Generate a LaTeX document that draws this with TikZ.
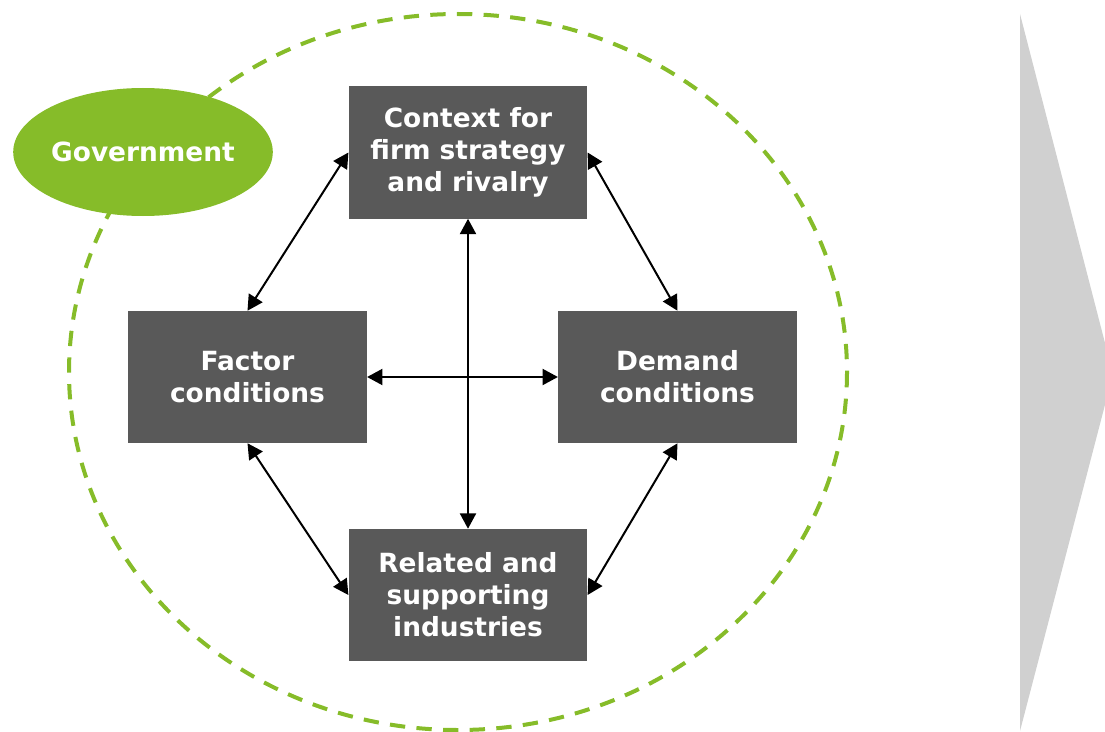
\documentclass[tikz,border=0pt]{standalone}
\usepackage{fontspec}
\setmainfont{DejaVu Sans}
\usetikzlibrary{arrows.meta, shapes.geometric}

\definecolor{boxgray}{HTML}{595959}
\definecolor{govgreen}{HTML}{86BC29}
\definecolor{chevgray}{HTML}{D0D0D0}

\begin{document}
\begin{tikzpicture}[
      x=0.75pt, y=-0.75pt,
      force/.style={fill=boxgray, text=white, align=center, minimum width=179pt, minimum height=99pt, inner sep=0pt, font=\fontsize{19.8}{24}\selectfont\bfseries},
      gov/.style={ellipse, fill=govgreen, text=white, minimum width=193.5pt, minimum height=96pt, inner sep=0pt, font=\fontsize{19.8}{24}\selectfont\bfseries},
      link/.style={{Triangle[length=11.5pt, width=12pt]}-{Triangle[length=11.5pt, width=12pt]}, line width=1.5pt},
      ring/.style={draw=govgreen, line width=3pt, dash pattern=on 11.5pt off 8.5pt}
    ]
    \useasboundingbox (0,0) rectangle (1105,731);
    \clip (0,0) rectangle (1105,731);

    % chevron on the right
    \fill[chevgray] (1020,14) -- (1113,374) -- (1020,731) -- cycle;

    % dashed ring round the diamond
    \draw[ring] (458,372) ellipse [x radius=389, y radius=358];

    \node[gov] (gov) at (143,152) {Government};

    \node[force] (ctx)    at (468,152.5) {Context for\\firm strategy\\and rivalry};
    \node[force] (factor) at (247.5,377) {Factor\\conditions};
    \node[force] (demand) at (677.5,377) {Demand\\conditions};
    \node[force] (rel)    at (468,595)   {Related and\\supporting\\industries};

    \draw[link] (ctx.west)    -- (factor.north);
    \draw[link] (ctx.east)    -- (demand.north);
    \draw[link] (factor.east) -- (demand.west);
    \draw[link] (ctx.south)   -- (rel.north);
    \draw[link] (factor.south) -- (rel.west);
    \draw[link] (demand.south) -- (rel.east);
  \end{tikzpicture}
\end{document}
